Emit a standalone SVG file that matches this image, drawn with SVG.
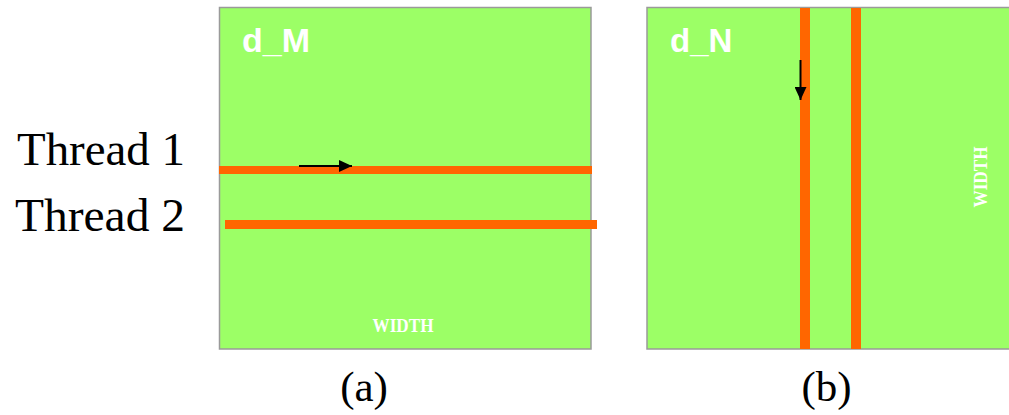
<svg xmlns="http://www.w3.org/2000/svg" width="1009" height="415" viewBox="0 0 1009 415">
  <style>
    .panel { fill: #9cff66; stroke: #9a9a9a; stroke-width: 1.5; }
    .row { fill: #ff6600; }
    .title { font-family: "Liberation Sans", Arial, sans-serif; font-weight: bold; font-size: 33px; fill: #ffffff; }
    .dim { font-family: "Liberation Serif", "Times New Roman", serif; font-weight: bold; font-size: 18px; fill: #ffffff; }
    .label { font-family: "Liberation Serif", "Times New Roman", serif; font-size: 46px; fill: #000000; }
    .cap { font-family: "Liberation Serif", "Times New Roman", serif; font-size: 43px; fill: #000000; text-anchor: middle; }
    .arrow { stroke: #000000; stroke-width: 2; fill: none; }
  </style>
  <defs>
    <marker id="head" viewBox="0 0 13 12" refX="13" refY="6" markerWidth="13" markerHeight="12" markerUnits="userSpaceOnUse" orient="auto">
      <path d="M0,0 L13,6 L0,12 Z" fill="#000000"/>
    </marker>
  </defs>

  <rect width="1009" height="415" fill="#ffffff"/>

  <!-- matrix d_M accessed by rows -->
  <g id="matrix-m">
    <rect class="panel" x="219.5" y="7.5" width="371.5" height="341.5"/>
    <text class="title" x="242" y="52" textLength="68" lengthAdjust="spacingAndGlyphs">d_M</text>
    <text class="dim" x="403" y="332" text-anchor="middle" textLength="61" lengthAdjust="spacingAndGlyphs">WIDTH</text>
  </g>
  <g id="row-thread1">
    <rect class="row" x="219" y="166" width="373" height="8"/>
  </g>
  <g id="row-thread2">
    <rect class="row" x="225" y="220" width="372" height="9"/>
  </g>

  <!-- matrix d_N accessed by columns -->
  <g id="matrix-n">
    <rect class="panel" x="647" y="7.5" width="370" height="341.5"/>
    <text class="title" x="670" y="52">d_N</text>
    <text class="dim" transform="translate(987,177) rotate(-90)" x="0" y="0" text-anchor="middle" textLength="61" lengthAdjust="spacingAndGlyphs">WIDTH</text>
  </g>
  <g id="col-thread1">
    <rect class="row" x="800" y="8" width="10" height="341"/>
  </g>
  <g id="col-thread2">
    <rect class="row" x="851" y="8" width="10" height="341"/>
  </g>

  <!-- access direction arrows -->
  <g id="connectors">
    <line class="arrow" x1="299" y1="166" x2="352" y2="166" marker-end="url(#head)"/>
    <line class="arrow" x1="800.5" y1="60" x2="800.5" y2="100" marker-end="url(#head)"/>
  </g>

  <!-- thread labels -->
  <g id="thread-labels">
    <text class="label" x="17" y="165" textLength="168" lengthAdjust="spacingAndGlyphs">Thread 1</text>
    <text class="label" x="15" y="231" textLength="170" lengthAdjust="spacingAndGlyphs">Thread 2</text>
  </g>

  <!-- panel captions -->
  <g id="captions">
    <text class="cap" x="364" y="401">(a)</text>
    <text class="cap" x="826.5" y="401">(b)</text>
  </g>
</svg>
